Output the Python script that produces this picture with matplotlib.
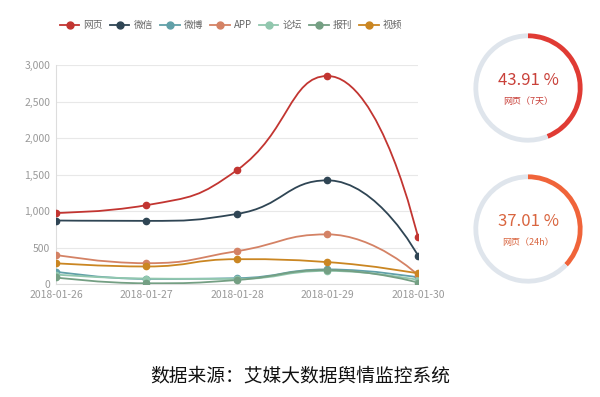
import numpy as np
import matplotlib.pyplot as plt
from matplotlib.path import Path
from matplotlib.patches import PathPatch

plt.rcParams['font.family'] = ['Noto Sans CJK SC', 'DejaVu Sans']

# Data
dates = ['2018-01-26', '2018-01-27', '2018-01-28', '2018-01-29', '2018-01-30']
names = ['网页', '微信', '微博', 'APP', '论坛', '报刊', '视频']
wangye = [975, 1080, 1560, 2850, 640]
weixin = [870, 865, 960, 1420, 390]
weibo = [170, 70, 80, 200, 90]
app = [400, 285, 450, 680, 125]
luntan = [130, 75, 70, 180, 55]
baokan = [90, 10, 55, 190, 20]
shipin = [285, 240, 340, 300, 145]
series = [wangye, weixin, weibo, app, luntan, baokan, shipin]
colors = ['#c23531', '#2f4554', '#61a0a8', '#d48265', '#91c7ae', '#749f83', '#ca8622']

gauge_values = [43.91, 37.01]
gauge_labels = ['网页（7天）', '网页（24h）']
gauge_colors = ['#e03b34', '#f0643a']
gauge_text_colors = ['#c9413a', '#d9653f']


def smooth_path(xs, ys, sx, sy, smooth=0.5):
    # echarts-like bezier smoothing (no overshoot), computed in pixel units
    px = np.asarray(xs, float) * sx
    py = np.asarray(ys, float) * sy
    n = len(px)
    verts = [(px[0], py[0])]
    codes = [Path.MOVETO]
    cp0 = (px[0], py[0])
    for i in range(n - 1):
        if i + 1 < n - 1:
            x, y = px[i + 1], py[i + 1]
            prx, pry = px[i], py[i]
            nx, ny = px[i + 2], py[i + 2]
            vx, vy = nx - prx, ny - pry
            lp = np.hypot(x - prx, y - pry)
            ln = np.hypot(nx - x, ny - y)
            r = ln / (ln + lp)
            ncx = x + vx * smooth * r
            ncy = y + vy * smooth * r
            ncx = min(max(ncx, min(nx, x)), max(nx, x))
            ncy = min(max(ncy, min(ny, y)), max(ny, y))
            vx, vy = ncx - x, ncy - y
            c1x = x - vx * lp / ln
            c1y = y - vy * lp / ln
            c1x = min(max(c1x, min(prx, x)), max(prx, x))
            c1y = min(max(c1y, min(pry, y)), max(pry, y))
            vx, vy = x - c1x, y - c1y
            ncx = x + vx * ln / lp
            ncy = y + vy * ln / lp
            cp1 = (c1x, c1y)
            next_cp0 = (ncx, ncy)
        else:
            cp1 = (px[i + 1], py[i + 1])
            next_cp0 = cp1
        verts += [cp0, cp1, (px[i + 1], py[i + 1])]
        codes += [Path.CURVE4] * 3
        cp0 = next_cp0
    verts = [(a / sx, b / sy) for a, b in verts]
    return Path(verts, codes)


fig = plt.figure(figsize=(6, 3.97), dpi=100)
ax = fig.add_axes([0.0933, 0.2846, 0.6033, 0.5516])

xs = np.arange(len(dates))
sx, sy = 90.6, 0.073
handles = []
for name, vals, c in zip(names, series, colors):
    ax.add_patch(PathPatch(smooth_path(xs, vals, sx, sy), facecolor='none',
                           edgecolor=c, lw=1.3, zorder=3))
    ax.plot(xs, vals, 'o', color=c, ms=4.5, zorder=4)
    handles.append(plt.Line2D([], [], color=c, lw=1.3, marker='o', ms=5))

ax.set_xlim(0, len(dates) - 1)
ax.set_ylim(0, 3000)
ax.set_yticks(range(0, 3001, 500))
ax.set_yticklabels([f'{v:,}' for v in range(0, 3001, 500)])
ax.set_xticks(xs)
ax.set_xticklabels(dates)
ax.tick_params(colors='#999999', labelsize=7.5, length=0, pad=4)
ax.grid(axis='y', color='#e8e8e8', lw=0.8)
for s in ['top', 'right']:
    ax.spines[s].set_visible(False)
for s in ['left', 'bottom']:
    ax.spines[s].set_color('#dddddd')
    ax.spines[s].set_linewidth(0.8)

fig.legend(handles, names, loc='center', bbox_to_anchor=(0.385, 0.937), ncol=7,
           frameon=False, fontsize=7, handlelength=2.0, handletextpad=0.4,
           columnspacing=0.75, labelcolor='#666666')

# gauges
for i, (val, lab, gc, tc) in enumerate(zip(gauge_values, gauge_labels,
                                            gauge_colors, gauge_text_colors)):
    cy = [88, 229][i]
    gax = fig.add_axes([(528 - 60) / 600, 1 - (cy + 60) / 397, 120 / 600, 120 / 397])
    gax.pie([val, 100 - val], colors=[gc, '#dfe5ec'], startangle=90,
            counterclock=False, radius=0.91,
            wedgeprops=dict(width=0.08, edgecolor='none'))
    gax.set_xlim(-1, 1)
    gax.set_ylim(-1, 1)
    gax.set_aspect('equal')
    gax.axis('off')
    gax.text(0, 0.12, f'{val:.2f} %', ha='center', va='center', fontsize=12,
             color=tc)
    gax.text(0, -0.22, lab, ha='center', va='center', fontsize=6.5, color=tc)

fig.text(0.5, 0.053, '数据来源：艾媒大数据舆情监控系统', ha='center', va='center',
         fontsize=13.5, color='#111111', fontweight='light')

fig.savefig('out.png', dpi=100)
